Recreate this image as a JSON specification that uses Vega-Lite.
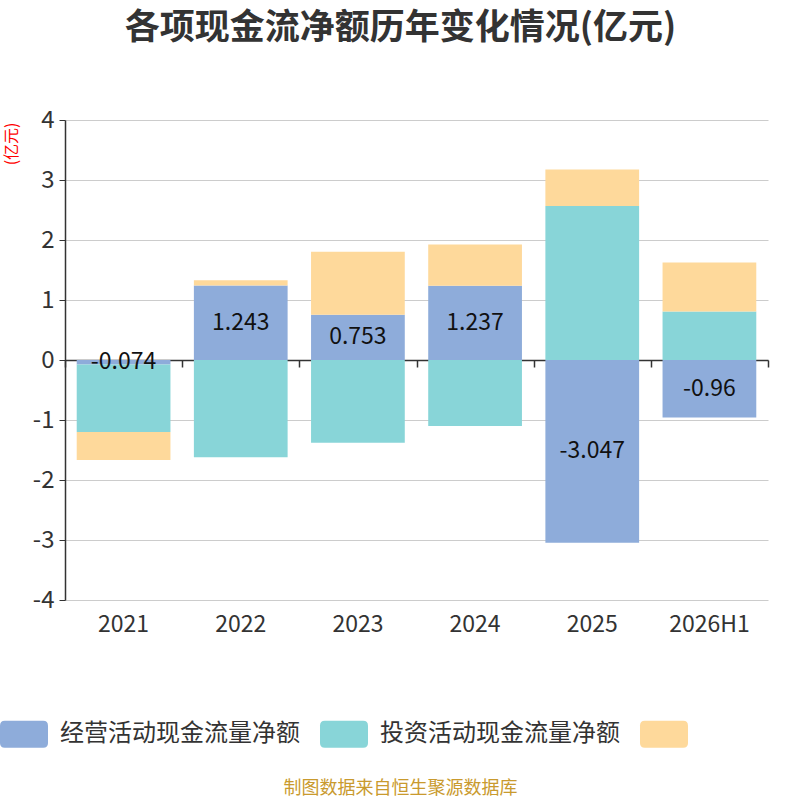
{
  "$schema": "https://vega.github.io/schema/vega-lite/v6.json",
  "width": 703,
  "height": 480,
  "autosize": {"type": "none"},
  "padding": {"left": 65, "top": 120, "right": 32, "bottom": 200},
  "background": "white",
  "title": {
    "text": "各项现金流净额历年变化情况(亿元)",
    "anchor": "middle",
    "frame": "group",
    "dx": -16,
    "offset": 62,
    "fontSize": 35,
    "fontWeight": "bold",
    "color": "#333333",
    "font": "Noto Sans CJK SC"
  },
  "config": {
    "font": "Noto Sans CJK SC",
    "view": {"stroke": null}
  },
  "data": {
    "values": [
      {"year": "2021", "type": "经营活动现金流量净额", "rank": 1, "value": -0.074},
      {"year": "2021", "type": "投资活动现金流量净额", "rank": 2, "value": -1.126},
      {"year": "2021", "type": "筹资活动现金流量净额", "rank": 3, "value": -0.467},
      {"year": "2022", "type": "经营活动现金流量净额", "rank": 1, "value": 1.243},
      {"year": "2022", "type": "投资活动现金流量净额", "rank": 2, "value": -1.62},
      {"year": "2022", "type": "筹资活动现金流量净额", "rank": 3, "value": 0.085},
      {"year": "2023", "type": "经营活动现金流量净额", "rank": 1, "value": 0.753},
      {"year": "2023", "type": "投资活动现金流量净额", "rank": 2, "value": -1.38},
      {"year": "2023", "type": "筹资活动现金流量净额", "rank": 3, "value": 1.05},
      {"year": "2024", "type": "经营活动现金流量净额", "rank": 1, "value": 1.237},
      {"year": "2024", "type": "投资活动现金流量净额", "rank": 2, "value": -1.1},
      {"year": "2024", "type": "筹资活动现金流量净额", "rank": 3, "value": 0.69},
      {"year": "2025", "type": "经营活动现金流量净额", "rank": 1, "value": -3.047},
      {"year": "2025", "type": "投资活动现金流量净额", "rank": 2, "value": 2.566},
      {"year": "2025", "type": "筹资活动现金流量净额", "rank": 3, "value": 0.61},
      {"year": "2026H1", "type": "经营活动现金流量净额", "rank": 1, "value": -0.96},
      {"year": "2026H1", "type": "投资活动现金流量净额", "rank": 2, "value": 0.807},
      {"year": "2026H1", "type": "筹资活动现金流量净额", "rank": 3, "value": 0.82}
    ]
  },
  "resolve": {"axis": {"x": "independent"}},
  "layer": [
    {
      "mark": {"type": "bar", "width": {"band": 0.8}},
      "encoding": {
        "x": {
          "field": "year",
          "type": "nominal",
          "sort": null,
          "scale": {"paddingInner": 0, "paddingOuter": 0},
          "axis": {
            "orient": "bottom",
            "domain": false,
            "ticks": false,
            "labelAngle": 0,
            "labelFontSize": 23,
            "labelColor": "#333333",
            "labelPadding": 13,
            "title": "制图数据来自恒生聚源数据库",
            "titleColor": "#C99A2E",
            "titleFontSize": 18,
            "titleFontWeight": "normal",
            "titleX": 335,
            "titleY": 188,
            "titleAlign": "center",
            "titleBaseline": "middle"
          }
        },
        "y": {
          "field": "value",
          "type": "quantitative",
          "stack": "zero",
          "scale": {"domain": [-4, 4], "nice": false},
          "axis": {
            "values": [-4, -3, -2, -1, 0, 1, 2, 3, 4],
            "labelExpr": "toString(datum.value)",
            "domainColor": "#333333",
            "domainWidth": 1.5,
            "tickColor": "#333333",
            "tickSize": 6,
            "labelFontSize": 24,
            "labelColor": "#333333",
            "labelPadding": 5,
            "gridColor": "#cccccc",
            "gridWidth": 1,
            "title": "(亿元)",
            "titleColor": "#ff0000",
            "titleFontSize": 16,
            "titleFontWeight": "normal",
            "titleAngle": 270,
            "titleX": -54,
            "titleY": 2,
            "titleAlign": "right",
            "titleBaseline": "middle"
          }
        },
        "order": {"field": "rank", "type": "quantitative", "sort": "ascending"},
        "color": {
          "field": "type",
          "type": "nominal",
          "sort": ["经营活动现金流量净额", "投资活动现金流量净额", "筹资活动现金流量净额"],
          "scale": {
            "domain": ["经营活动现金流量净额", "投资活动现金流量净额", "筹资活动现金流量净额"],
            "range": ["#8EACDA", "#88D5D8", "#FED99B"]
          },
          "legend": {
            "orient": "none",
            "legendX": -65,
            "legendY": 590,
            "direction": "horizontal",
            "title": null,
            "symbolType": "M-0.8,-0.56H0.8Q1,-0.56 1,-0.36V0.36Q1,0.56 0.8,0.56H-0.8Q-1,0.56 -1,0.36V-0.36Q-1,-0.56 -0.8,-0.56Z",
            "symbolSize": 2304,
            "symbolStrokeWidth": 0,
            "symbolOpacity": 1,
            "labelFontSize": 24,
            "labelColor": "#333333",
            "labelOffset": 12,
            "labelLimit": 400,
            "columnPadding": 20,
            "labelExpr": "datum.label == '筹资活动现金流量净额' ? '' : datum.label"
          }
        }
      }
    },
    {
      "transform": [{"filter": "datum.type == '经营活动现金流量净额'"}],
      "mark": {"type": "text", "fontSize": 23, "color": "#111111", "baseline": "middle"},
      "encoding": {
        "x": {
          "field": "year",
          "type": "nominal",
          "sort": null,
          "axis": {
            "orient": "bottom",
            "offset": -240,
            "labels": false,
            "grid": false,
            "title": null,
            "domain": true,
            "domainColor": "#333333",
            "domainWidth": 1.5,
            "ticks": true,
            "tickBand": "extent",
            "tickColor": "#333333",
            "tickWidth": 1.5,
            "tickSize": 7
          }
        },
        "y": {
          "field": "value",
          "type": "quantitative",
          "stack": "zero",
          "bandPosition": 0.5
        },
        "text": {"field": "value", "type": "nominal"}
      }
    }
  ]
}
